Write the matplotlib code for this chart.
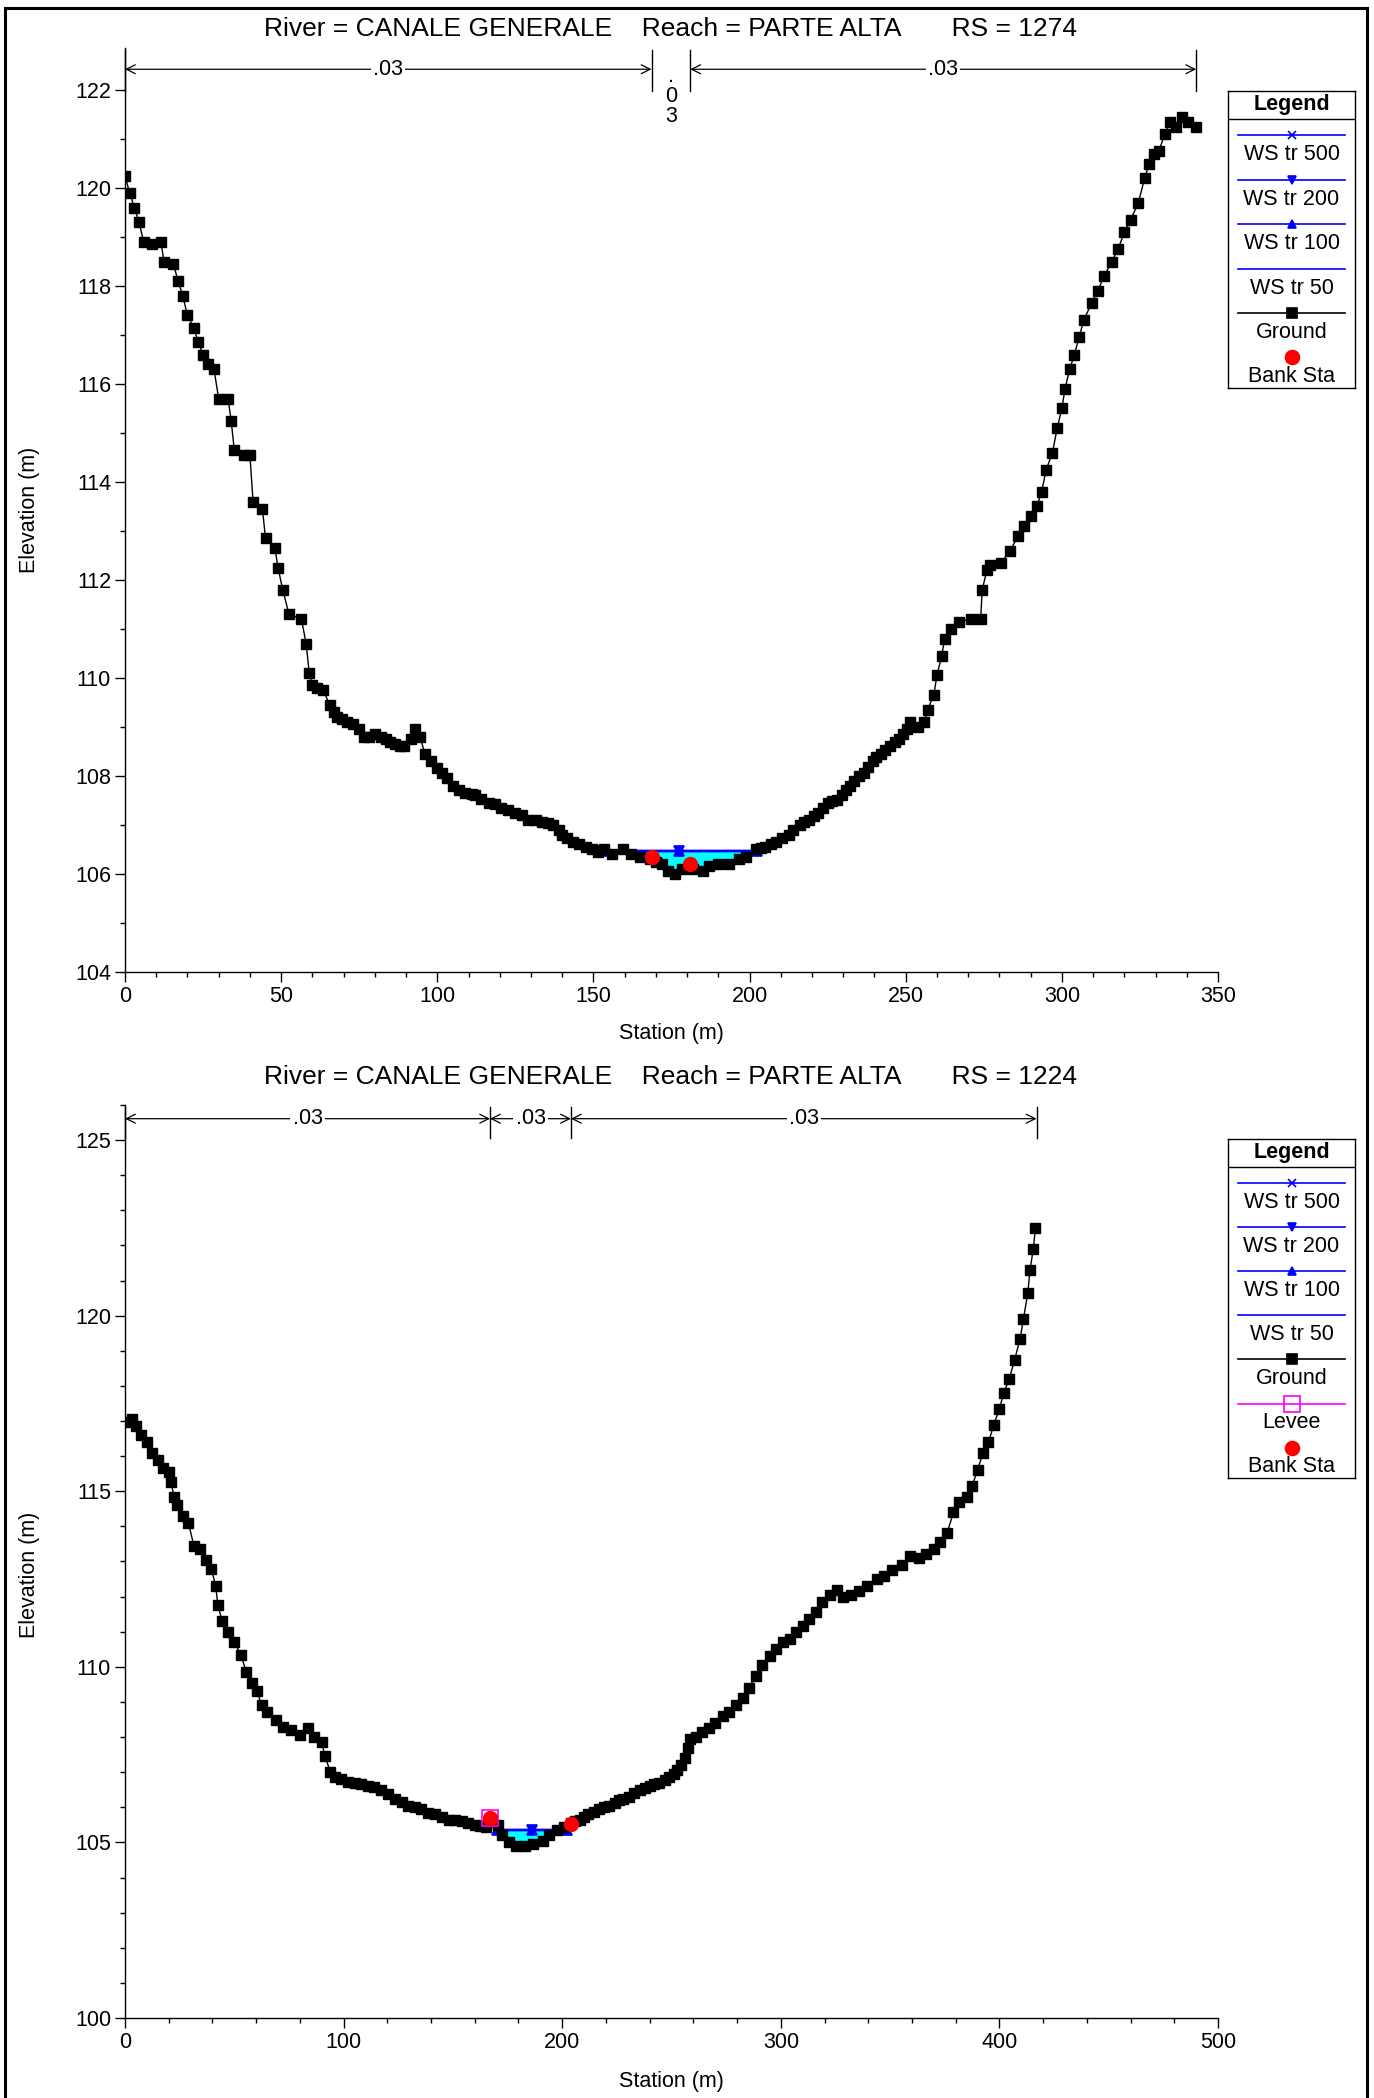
import numpy as np
import matplotlib.pyplot as plt
from matplotlib.patches import Rectangle
import matplotlib.transforms as mtransforms

plt.rcParams['font.family'] = ['Liberation Sans', 'DejaVu Sans']

# ---- RS 1274 ----
sta_1274 = [0, 1.5, 3, 4.5, 6, 8.5, 11.5, 12.5, 15.5, 17, 18.5, 20, 22, 23.5, 25, 26.5,
            28.5, 30, 33, 34, 35, 38, 40, 41, 44, 45, 48, 49, 50.5, 52.5, 56.5, 58, 59,
            60, 61.5, 63.5, 65.5, 67, 68, 69.5, 71, 73, 75, 76.5, 78, 80, 82, 83.5, 85,
            86.5, 88, 89.5, 91.5, 93, 94.5, 96, 98, 100, 101.5, 103, 105, 107, 109, 111,
            112, 114, 116.5, 118.5, 120.5, 122.5, 125, 127, 129, 131.5, 133.5, 135.5,
            137, 139, 140, 141.5, 143.5, 145.5, 147.5, 149.5, 151.5, 153.5, 156, 159.5,
            162, 165, 168, 170, 172, 174, 176, 178.5, 182, 185, 187, 190, 193.5, 196.5,
            199, 202, 203.5, 205, 207, 208.5, 210.5, 212.5, 214, 216, 217.5, 219, 220.5,
            222, 223.5, 225, 226.5, 228, 229.5, 231, 232, 233.5, 235, 236.5, 238, 239.5,
            240.5, 242, 243.5, 245, 246.5, 248, 249, 250.5, 251.5, 254, 256, 257, 259,
            260, 261.5, 262.5, 264.5, 267, 271, 274, 274.5, 276, 277, 280.5, 283.5, 286,
            288, 290, 292, 293.5, 295, 297, 298.5, 300, 301, 302.5, 304, 305.5, 307,
            309.5, 311.5, 313.5, 316, 318, 320, 322, 324.5, 326.5, 328, 329.5, 331, 333,
            334.5, 336.5, 338.5, 340.5, 343]
elev_1274 = [120.25, 119.9, 119.6, 119.3, 118.9, 118.85, 118.9, 118.5, 118.45, 118.1,
             117.8, 117.4, 117.15, 116.85, 116.6, 116.4, 116.3, 115.7, 115.7, 115.25,
             114.65, 114.55, 114.55, 113.6, 113.45, 112.85, 112.65, 112.25, 111.8, 111.3,
             111.2, 110.7, 110.1, 109.85, 109.8, 109.75, 109.45, 109.3, 109.2, 109.15,
             109.1, 109.05, 108.95, 108.8, 108.8, 108.85, 108.8, 108.75, 108.7, 108.65,
             108.6, 108.6, 108.75, 108.95, 108.8, 108.45, 108.3, 108.15, 108.05, 107.95,
             107.8, 107.72, 107.65, 107.62, 107.6, 107.53, 107.45, 107.42, 107.35, 107.31,
             107.25, 107.2, 107.1, 107.1, 107.05, 107.04, 107.0, 106.9, 106.8, 106.72,
             106.65, 106.6, 106.55, 106.5, 106.45, 106.5, 106.4, 106.5, 106.4, 106.35,
             106.3, 106.25, 106.2, 106.05, 106.0, 106.1, 106.1, 106.05, 106.15, 106.2,
             106.2, 106.3, 106.35, 106.5, 106.52, 106.55, 106.6, 106.65, 106.72, 106.8,
             106.9, 107.0, 107.05, 107.1, 107.18, 107.25, 107.35, 107.45, 107.48, 107.5,
             107.6, 107.7, 107.8, 107.9, 108.0, 108.05, 108.18, 108.3, 108.38, 108.45,
             108.52, 108.6, 108.68, 108.75, 108.85, 108.95, 109.1, 109.0, 109.1, 109.35,
             109.65, 110.05, 110.45, 110.8, 111.0, 111.15, 111.2, 111.2, 111.8, 112.2,
             112.3, 112.35, 112.6, 112.9, 113.1, 113.3, 113.5, 113.8, 114.25, 114.6,
             115.1, 115.5, 115.9, 116.3, 116.6, 116.95, 117.3, 117.65, 117.9, 118.2,
             118.5, 118.75, 119.1, 119.35, 119.7, 120.2, 120.5, 120.7, 120.75, 121.1,
             121.35, 121.25, 121.45, 121.35, 121.25]
bank_sta_1274 = [168.6, 181.0]
bank_elev_1274 = [106.35, 106.2]
ws_1274 = 106.47
ws_ext_1274 = [152.6, 202.3]
n_breaks_1274 = [0, 168.6, 181.0, 343.0]
n_vals_1274 = ['.03', '.03', '.03']

# ---- RS 1224 ----
sta_1224 = [0, 3, 5, 7.5, 10, 12.5, 15, 17.5, 20, 21, 22.5, 24, 26.5, 29, 31.5, 34.5,
            37, 39.5, 41.5, 42.5, 44.5, 47, 50, 53, 55.5, 58, 60.5, 62.5, 65, 69, 72.5,
            76, 80, 83.5, 86.5, 90, 91.5, 94, 96, 99, 102, 105, 108, 111, 114, 117,
            120.5, 123.5, 126.5, 129.5, 132.5, 135.5, 138.5, 142, 145, 148, 151, 154,
            157, 160, 162.5, 165, 168, 170.5, 172.5, 175.5, 179, 183, 186.5, 191, 194,
            197.5, 201, 204, 206, 208, 210, 212, 214.5, 217, 219, 221.5, 224, 226, 228,
            230.5, 233, 235.5, 238, 240, 242, 244.5, 247, 249, 251, 252.5, 254.5, 256,
            257.5, 258.5, 261, 264, 267, 270, 273.5, 276.5, 279.5, 282.5, 285.5, 288.5,
            291.5, 295, 298, 301, 304, 307, 310, 313, 316, 319, 322.5, 325.5, 328.5, 332,
            336, 339.5, 344, 347, 351, 355.5, 359, 363, 366.5, 370, 373, 376, 379, 381.5,
            385, 387.5, 390, 392.5, 395, 397.5, 400, 402, 404.5, 407, 409.5, 411, 413,
            414, 415.5, 416.5]
elev_1224 = [116.98, 117.05, 116.87, 116.6, 116.4, 116.1, 115.9, 115.65, 115.55, 115.25,
             114.85, 114.6, 114.3, 114.1, 113.45, 113.35, 113.05, 112.8, 112.3, 111.75,
             111.3, 111.0, 110.7, 110.35, 109.85, 109.55, 109.3, 108.9, 108.7, 108.5,
             108.3, 108.2, 108.05, 108.25, 108.0, 107.85, 107.45, 107.0, 106.85, 106.8,
             106.72, 106.7, 106.65, 106.6, 106.57, 106.5, 106.38, 106.25, 106.15, 106.05,
             106.0, 105.95, 105.85, 105.8, 105.73, 105.65, 105.65, 105.6, 105.55, 105.5,
             105.47, 105.45, 105.65, 105.5, 105.2, 105.0, 104.9, 104.9, 104.95, 105.05,
             105.2, 105.35, 105.45, 105.55, 105.6, 105.65, 105.72, 105.8, 105.88, 105.95,
             106.0, 106.05, 106.12, 106.2, 106.25, 106.3, 106.4, 106.5, 106.55, 106.6,
             106.65, 106.7, 106.78, 106.85, 106.95, 107.05, 107.2, 107.4, 107.7, 107.95,
             108.0, 108.15, 108.25, 108.4, 108.6, 108.7, 108.9, 109.1, 109.4, 109.75,
             110.05, 110.3, 110.5, 110.7, 110.8, 111.0, 111.15, 111.35, 111.55, 111.85,
             112.05, 112.2, 112.0, 112.05, 112.15, 112.3, 112.5, 112.6, 112.75, 112.9,
             113.15, 113.1, 113.2, 113.35, 113.55, 113.8, 114.4, 114.7, 114.85, 115.15,
             115.6, 116.1, 116.4, 116.9, 117.35, 117.8, 118.2, 118.75, 119.35, 119.9,
             120.65, 121.3, 121.9, 122.5]
bank_sta_1224 = [167.0, 204.0]
bank_elev_1224 = [105.69, 105.52]
levee_sta_1224 = [167.0]
levee_elev_1224 = [105.69]
ws_1224 = 105.35
ws_ext_1224 = [170.0, 202.0]
n_breaks_1224 = [0, 167.0, 204.0, 417.0]
n_vals_1224 = ['.03', '.03', '.03']

W, H = 1374, 2098
fig = plt.figure(figsize=(W / 100, H / 100), dpi=100)

# outer frame
fig.patches.append(Rectangle((5 / W, -0.01), 1362 / W, 1.01 - 8 / H, transform=fig.transFigure,
                             fill=False, edgecolor='black', lw=2.2))

ws_styles = [('WS tr 500', 'x'), ('WS tr 200', 'v'), ('WS tr 100', '^'), ('WS tr 50', None)]
FS = 15.5


def draw_section(ax, sta, elev, ws, ws_ext, bank_sta, bank_elev, n_breaks, n_vals,
                 xlim, ylim, xmaj, xmin, ymaj, ymin, arrow_y, div_lo, levee=None):
    sta = np.array(sta)
    elev = np.array(elev)
    inside = (sta >= ws_ext[0]) & (sta <= ws_ext[1])
    ax.fill_between(sta, elev, ws, where=inside & (elev < ws), interpolate=True,
                    color='#00ffff', lw=0, zorder=2)
    for name, mk in ws_styles:
        xs = [ws_ext[0], (ws_ext[0] + ws_ext[1]) / 2, ws_ext[1]]
        ax.plot(xs, [ws] * 3, color='#0000ff', lw=1.6, marker=mk, ms=7, mew=1.2, zorder=3)
    ax.plot(sta, elev, color='black', lw=1, marker='s', ms=6.5, zorder=4)
    if levee is not None:
        ax.plot(levee[0], levee[1], ls='none', marker='s', ms=11, mfc='none',
                mec='#ff00ff', mew=1.2, zorder=5)
    ax.plot(bank_sta, bank_elev, ls='none', marker='o', ms=10, color='red', zorder=6)

    ax.set_xlim(*xlim)
    ax.set_ylim(*ylim)
    for s in ['top', 'right']:
        ax.spines[s].set_visible(False)
    ax.spines['left'].set_linewidth(1)
    ax.spines['bottom'].set_linewidth(1)
    ax.set_xticks(np.arange(xlim[0], xlim[1] + 1, xmaj))
    ax.set_xticks(np.arange(xlim[0], xlim[1] + 1, xmin), minor=True)
    ax.set_yticks(np.arange(ylim[0], np.floor(ylim[1]) + 0.1, ymaj))
    ax.set_yticks(np.arange(ylim[0], np.floor(ylim[1]) + 0.1, ymin), minor=True)
    ax.tick_params(which='major', direction='out', length=7, width=1, labelsize=FS, pad=3)
    ax.tick_params(which='minor', direction='out', length=3.5, width=1)

    # Manning's n annotation
    tr = mtransforms.blended_transform_factory(ax.transData, ax.transAxes)
    for b in n_breaks:
        ax.plot([b, b], [div_lo, 0.998], color='black', lw=1, transform=tr, clip_on=False)
    xspan = xlim[1] - xlim[0]
    for i, lab in enumerate(n_vals):
        x0, x1 = n_breaks[i], n_breaks[i + 1]
        xm = (x0 + x1) / 2
        if (x1 - x0) / xspan < 0.05:
            ax.text(xm, arrow_y + 0.004, '\n'.join(lab), transform=tr, ha='center', va='top',
                    fontsize=FS, linespacing=0.95)
        else:
            ax.annotate('', xy=(x1, arrow_y), xytext=(x0, arrow_y), xycoords=tr, textcoords=tr,
                        arrowprops=dict(arrowstyle='<->', color='black', lw=0.9,
                                        shrinkA=0, shrinkB=0, mutation_scale=16))
            ax.text(xm, arrow_y, lab, transform=tr, ha='center', va='center', fontsize=FS,
                    bbox=dict(facecolor='white', edgecolor='none', pad=1.5))


def draw_legend(rect, entries):
    lax = fig.add_axes(rect)
    n = len(entries)
    total = 20 + 32 * n + 2
    lax.set_xlim(0, 1)
    lax.set_ylim(total, 0)
    lax.set_xticks([])
    lax.set_yticks([])
    for s in lax.spines.values():
        s.set_linewidth(1)
    lax.text(0.5, 10, 'Legend', ha='center', va='center', fontsize=FS, fontweight='bold')
    lax.axhline(20, color='black', lw=1)
    for k, (name, color, mk, line, mfc, ms) in enumerate(entries):
        yl = 32 + 32 * k
        if line:
            lax.plot([0.08, 0.92], [yl, yl], color=color, lw=1.2)
        if mk:
            lax.plot([0.5], [yl], marker=mk, color=color, ms=ms, mfc=mfc, mew=1.2)
        lax.text(0.5, yl + 14, name, ha='center', va='center', fontsize=FS)
    return lax


legend_1274 = [('WS tr 500', '#0000ff', 'x', True, '#0000ff', 6),
               ('WS tr 200', '#0000ff', 'v', True, '#0000ff', 6),
               ('WS tr 100', '#0000ff', '^', True, '#0000ff', 6),
               ('WS tr 50', '#0000ff', None, True, '#0000ff', 6),
               ('Ground', 'black', 's', True, 'black', 7),
               ('Bank Sta', 'red', 'o', False, 'red', 10)]
legend_1224 = legend_1274[:5] + [('Levee', '#ff00ff', 's', True, 'none', 11)] + legend_1274[5:]

title_1274 = 'River = CANALE GENERALE    Reach = PARTE ALTA       RS = 1274'
title_1224 = 'River = CANALE GENERALE    Reach = PARTE ALTA       RS = 1224'

# top chart
ax1 = fig.add_axes([125 / W, 1 - 971.7 / H, 1093 / W, (971.7 - 48) / H])
draw_section(ax1, sta_1274, elev_1274, ws_1274, ws_ext_1274, bank_sta_1274, bank_elev_1274,
             n_breaks_1274, n_vals_1274, (0, 350), (104, 122.86), 50, 10, 2, 1,
             arrow_y=0.977, div_lo=0.953)
fig.text(671 / W, 1 - 29 / H, title_1274, ha='center', va='center', fontsize=19)
fig.text(671 / W, 1 - 1034 / H, 'Station (m)', ha='center', va='center', fontsize=FS)
fig.text(29 / W, 1 - 510 / H, 'Elevation (m)', ha='center', va='center', fontsize=FS,
         rotation=90)
draw_legend([1228 / W, 1 - 388 / H, 127 / W, (388 - 91) / H], legend_1274)

# bottom chart
ax2 = fig.add_axes([125 / W, 1 - 2018 / H, 1093 / W, (2018 - 1105) / H])
draw_section(ax2, sta_1224, elev_1224, ws_1224, ws_ext_1224, bank_sta_1224, bank_elev_1224,
             n_breaks_1224, n_vals_1224, (0, 500), (100, 126), 100, 20, 5, 1,
             arrow_y=0.985, div_lo=0.964, levee=(levee_sta_1224, levee_elev_1224))
fig.text(671 / W, 1 - 1077 / H, title_1224, ha='center', va='center', fontsize=19)
fig.text(671 / W, 1 - 2082 / H, 'Station (m)', ha='center', va='center', fontsize=FS)
fig.text(29 / W, 1 - 1575 / H, 'Elevation (m)', ha='center', va='center', fontsize=FS,
         rotation=90)
draw_legend([1228 / W, 1 - 1478 / H, 127 / W, (1478 - 1139) / H], legend_1224)

fig.savefig('out.png', dpi=100)
